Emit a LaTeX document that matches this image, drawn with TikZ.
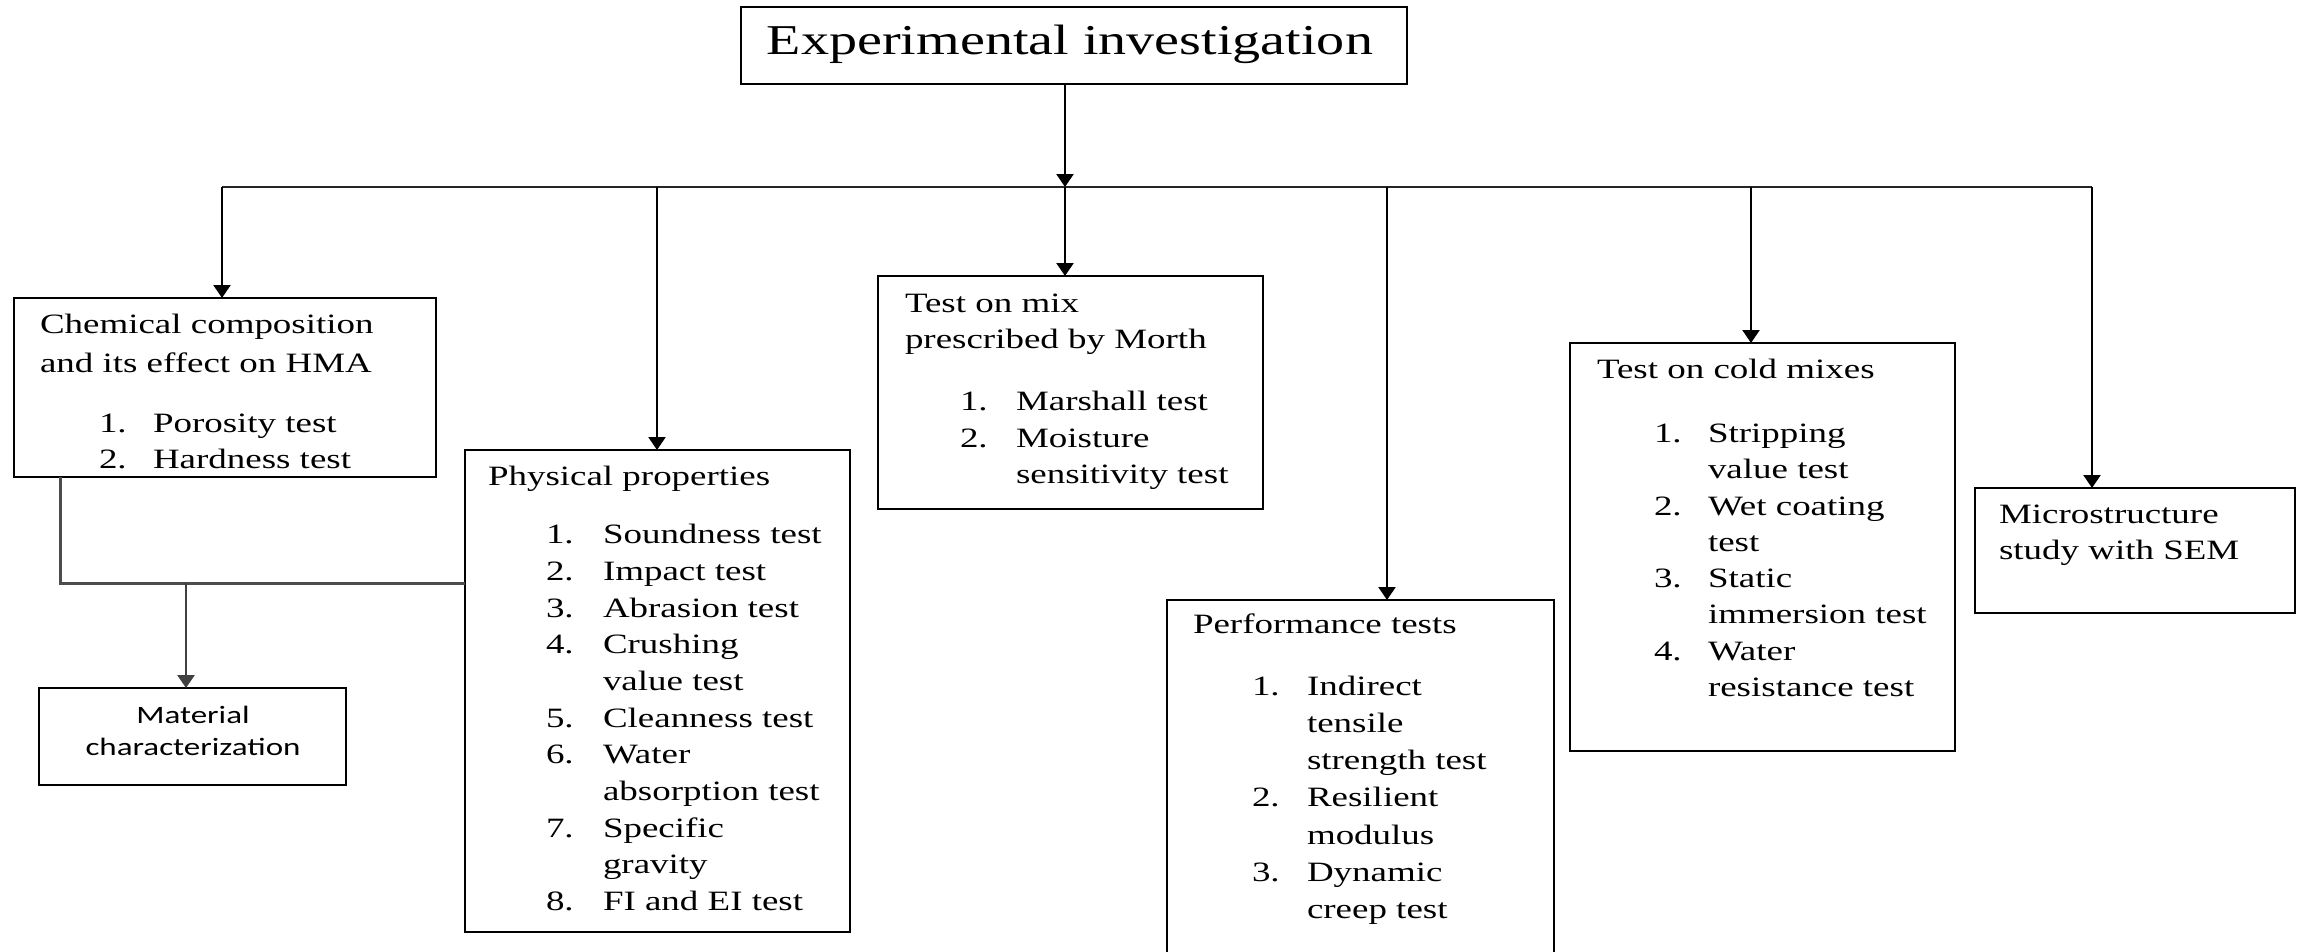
\documentclass[tikz,border=0pt]{standalone}
\usepackage{fontspec}
\setmainfont{Liberation Serif}[FakeStretch=1.32]
\newfontfamily\calib{Carlito}[FakeStretch=1.32]
\usetikzlibrary{arrows.meta}
\tikzset{
  box/.style={draw=black, line width=2.3pt, anchor=north west, inner sep=0pt, outer sep=0pt},
  txt/.style={anchor=base west, inner sep=0pt, outer sep=0pt, font=\fontsize{28}{34}\selectfont},
  ctr/.style={txt, anchor=base},
  arr/.style={line width=2.3pt, -{Triangle[length=13pt,width=17pt]}},
  wire/.style={line width=1.8pt, draw=black!85},
  gwire/.style={line width=3pt, draw=black!70},
}
\newcommand\tx[4]{\node[txt] (#1) at (#2,#3) {#4};}
\begin{document}
\begin{tikzpicture}[x=1pt,y=-1pt]
\useasboundingbox (0,0) rectangle (2303,951);
\clip (0,0) rectangle (2303,951);
\fill[white] (0,0) rectangle (2303,951);

% boxes
\node[box, minimum width=666pt, minimum height=77pt] (top) at (741,7) {};
\node[box, minimum width=422pt, minimum height=179pt] (chem) at (14,298) {};
\node[box, minimum width=385pt, minimum height=482pt] (phys) at (465,450) {};
\node[box, minimum width=307pt, minimum height=97pt] (mat) at (39,688) {};
\node[box, minimum width=385pt, minimum height=233pt] (mix) at (878,276) {};
\node[box, minimum width=387pt, minimum height=420pt] (perf) at (1167,600) {};
\node[box, minimum width=385pt, minimum height=408pt] (cold) at (1570,343) {};
\node[box, minimum width=320pt, minimum height=125pt] (micro) at (1975,488) {};

% top text
\node[ctr, font=\fontsize{42.5}{50}\selectfont] (toptxt) at (1070,54) {Experimental investigation};

% chemical
\tx{c1}{40}{333}{Chemical composition}
\tx{c2}{40}{372}{and its effect on HMA}
\tx{c3n}{99}{432}{1.}\tx{c3}{153}{432}{Porosity test}
\tx{c4n}{99}{468}{2.}\tx{c4}{153}{468}{Hardness test}

% physical
\tx{p0}{488}{485}{Physical properties}
\tx{p1n}{546}{543}{1.}\tx{p1}{603}{543}{Soundness test}
\tx{p2n}{546}{580}{2.}\tx{p2}{603}{580}{Impact test}
\tx{p3n}{546}{617}{3.}\tx{p3}{603}{617}{Abrasion test}
\tx{p4n}{546}{653}{4.}\tx{p4}{603}{653}{Crushing}
\tx{p4b}{603}{690}{value test}
\tx{p5n}{546}{727}{5.}\tx{p5}{603}{727}{Cleanness test}
\tx{p6n}{546}{763}{6.}\tx{p6}{603}{763}{Water}
\tx{p6b}{603}{800}{absorption test}
\tx{p7n}{546}{837}{7.}\tx{p7}{603}{837}{Specific}
\tx{p7b}{603}{873}{gravity}
\tx{p8n}{546}{910}{8.}\tx{p8}{603}{910}{FI and EI test}

% material
\node[ctr, font=\calib\fontsize{25}{30}\selectfont] (m1) at (193,723) {Material};
\node[ctr, font=\calib\fontsize{25}{30}\selectfont] (m2) at (193,755) {characterization};

% mix
\tx{x1}{905}{312}{Test on mix}
\tx{x2}{905}{348}{prescribed by Morth}
\tx{x3n}{960}{410}{1.}\tx{x3}{1016}{410}{Marshall test}
\tx{x4n}{960}{447}{2.}\tx{x4}{1016}{447}{Moisture}
\tx{x4b}{1016}{483}{sensitivity test}

% performance
\tx{f0}{1193}{633}{Performance tests}
\tx{f1n}{1252}{695}{1.}\tx{f1}{1307}{695}{Indirect}
\tx{f1b}{1307}{732}{tensile}
\tx{f1c}{1307}{769}{strength test}
\tx{f2n}{1252}{806}{2.}\tx{f2}{1307}{806}{Resilient}
\tx{f2b}{1307}{844}{modulus}
\tx{f3n}{1252}{881}{3.}\tx{f3}{1307}{881}{Dynamic}
\tx{f3b}{1307}{918}{creep test}

% cold
\tx{k0}{1597}{378}{Test on cold mixes}
\tx{k1n}{1654}{442}{1.}\tx{k1}{1708}{442}{Stripping}
\tx{k1b}{1708}{478}{value test}
\tx{k2n}{1654}{515}{2.}\tx{k2}{1708}{515}{Wet coating}
\tx{k2b}{1708}{551}{test}
\tx{k3n}{1654}{587}{3.}\tx{k3}{1708}{587}{Static}
\tx{k3b}{1708}{623}{immersion test}
\tx{k4n}{1654}{660}{4.}\tx{k4}{1708}{660}{Water}
\tx{k4b}{1708}{696}{resistance test}

% micro
\tx{s1}{1999}{523}{Microstructure}
\tx{s2}{1999}{559}{study with SEM}

% connectors
\coordinate (hl) at (222,187);
\coordinate (hub) at (1065,187);
\coordinate (hr) at (2092,187);
\coordinate (hp) at (657,187);
\coordinate (hf) at (1387,187);
\coordinate (hc) at (1751,187);
\draw[wire] (hl) -- (hr);
\draw[arr] (top.south -| hub) -- (hub);
\draw[arr] (hl) -- (hl |- chem.north);
\draw[arr] (hp) -- (hp |- phys.north);
\draw[arr] (hub) -- (hub |- mix.north);
\draw[arr] (hf) -- (hf |- perf.north);
\draw[arr] (hc) -- (hc |- cold.north);
\draw[arr] (hr) -- (hr |- micro.north);

\coordinate (cb) at (60,583);
\coordinate (mj) at (186,583);
\draw[gwire] (cb |- chem.south) -- (cb) -- (cb -| phys.west);
\draw[arr, draw=black!75, fill=black, line width=2.8pt] (mj) -- (mj |- mat.north);
\end{tikzpicture}
\end{document}
